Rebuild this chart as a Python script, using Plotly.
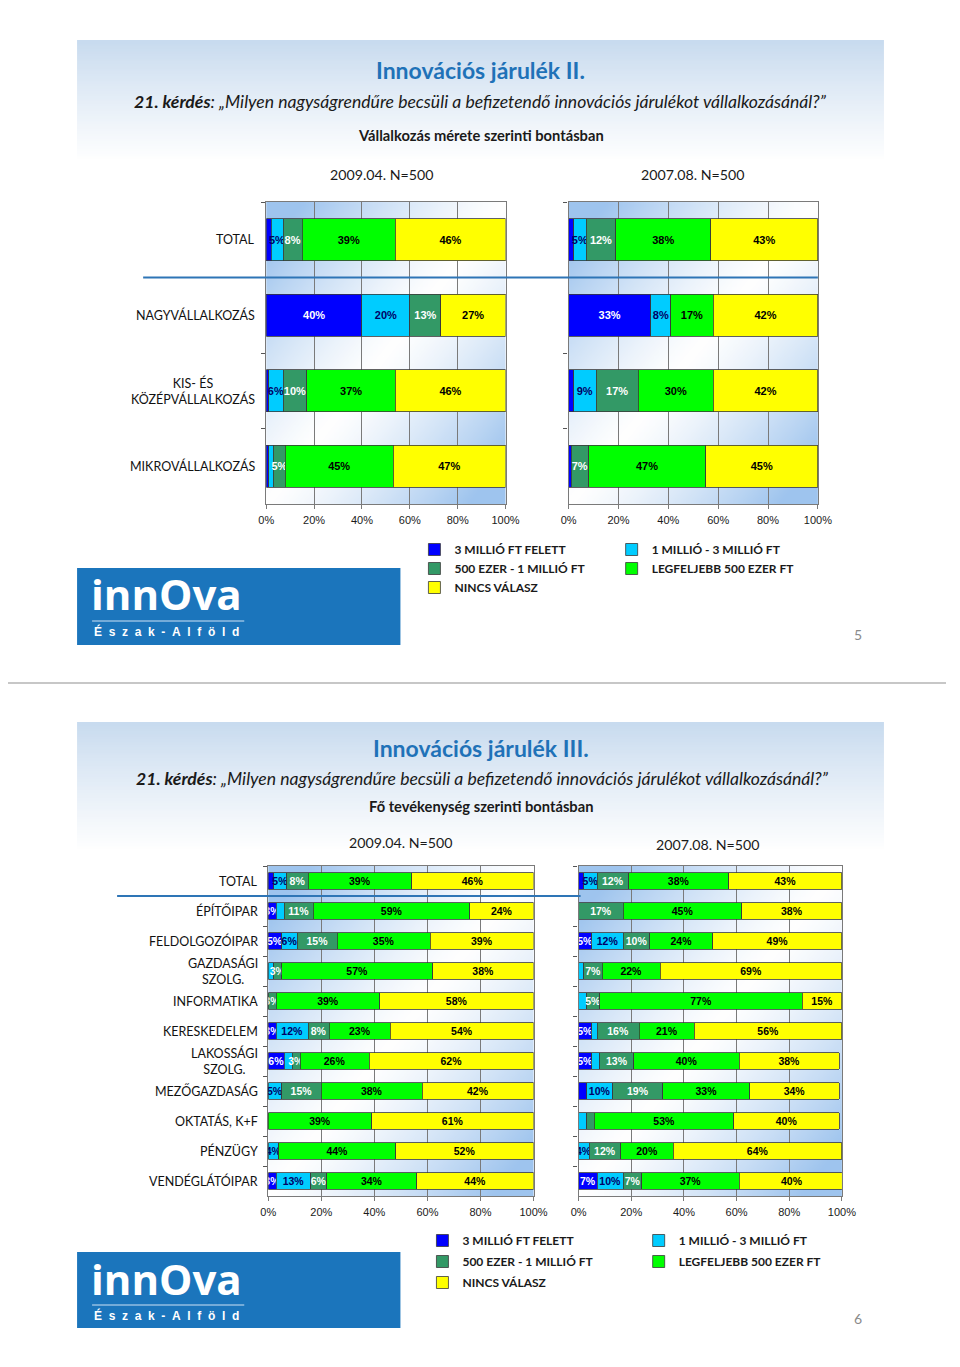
import base64
import struct
import zlib
import plotly.graph_objects as go

W, H = 960, 1367

# ---------------- data ----------------
SERIES = ["3 MILLIÓ FT FELETT", "1 MILLIÓ - 3 MILLIÓ FT", "500 EZER - 1 MILLIÓ FT",
          "LEGFELJEBB 500 EZER FT", "NINCS VÁLASZ"]

SIZE_CATS = ["TOTAL", "NAGYVÁLLALKOZÁS", "KIS- ÉS<br>KÖZÉPVÁLLALKOZÁS", "MIKROVÁLLALKOZÁS"]
size_2009_s1 = [2, 40, 1, 1]
size_2009_s2 = [5, 20, 6, 2]
size_2009_s3 = [8, 13, 10, 5]
size_2009_s4 = [39, 0, 37, 45]
size_2009_s5 = [46, 27, 46, 47]
size_2007_s1 = [2, 33, 2, 1]
size_2007_s2 = [5, 8, 9, 0]
size_2007_s3 = [12, 0, 17, 7]
size_2007_s4 = [38, 17, 30, 47]
size_2007_s5 = [43, 42, 42, 45]

SECTOR_CATS = ["TOTAL", "ÉPÍTŐIPAR", "FELDOLGOZÓIPAR", "GAZDASÁGI<br>SZOLG.", "INFORMATIKA",
               "KERESKEDELEM", "LAKOSSÁGI<br>SZOLG.", "MEZŐGAZDASÁG", "OKTATÁS, K+F",
               "PÉNZÜGY", "VENDÉGLÁTÓIPAR"]
sector_2009_s1 = [2, 3, 5, 0, 0, 3, 6, 0, 0, 0, 3]
sector_2009_s2 = [5, 3, 6, 2, 0, 12, 3, 5, 0, 4, 13]
sector_2009_s3 = [8, 11, 15, 3, 3, 8, 3, 15, 0, 0, 6]
sector_2009_s4 = [39, 59, 35, 57, 39, 23, 26, 38, 39, 44, 34]
sector_2009_s5 = [46, 24, 39, 38, 58, 54, 62, 42, 61, 52, 44]
sector_2007_s1 = [2, 0, 5, 0, 0, 5, 5, 3, 0, 0, 7]
sector_2007_s2 = [5, 0, 12, 2, 3, 2, 3, 10, 3, 4, 10]
sector_2007_s3 = [12, 17, 10, 7, 5, 16, 13, 19, 3, 12, 7]
sector_2007_s4 = [38, 45, 24, 22, 77, 21, 40, 33, 53, 20, 37]
sector_2007_s5 = [43, 38, 49, 69, 15, 56, 38, 34, 40, 64, 40]

# (series index, category index) segments that carry no data label in the original
sector_2009_unlabeled = [(1, 1), (1, 6)]
sector_2007_unlabeled = [(1, 4), (1, 6), (0, 7), (1, 8), (2, 8)]

X_TICKS = [0, 20, 40, 60, 80, 100]
X_TICK_LABELS = ["0%", "20%", "40%", "60%", "80%", "100%"]

# ---------------- styles ----------------
COLORS = ["#0000FF", "#00CCFF", "#339966", "#00FF00", "#FFFF00"]
TEXT_COLORS = ["#FFFFFF", "#000066", "#FFFFFF", "#000000", "#000000"]
CAL = "Lato"
ARIAL = "Liberation Sans"
TITLE_BLUE = "#1F72B8"

# the page as photographed maps paper x 0..1 onto pixels 8..945
PX0, PXW = 8.0, 937.0


def X(p):
    return (p - PX0) / PXW


def Y(p):
    return 1 - p / H


def png_uri(w, h, fn):
    raw = bytearray()
    for j in range(h):
        raw.append(0)
        for i in range(w):
            r, g, b = fn(i / (w - 1), j / (h - 1))
            raw += bytes((int(r), int(g), int(b)))

    def chunk(t, d):
        c = struct.pack(">I", len(d)) + t + d
        return c + struct.pack(">I", zlib.crc32(t + d) & 0xFFFFFFFF)

    png = (b"\x89PNG\r\n\x1a\n"
           + chunk(b"IHDR", struct.pack(">IIBBBBB", w, h, 8, 2, 0, 0, 0))
           + chunk(b"IDAT", zlib.compress(bytes(raw)))
           + chunk(b"IEND", b""))
    return "data:image/png;base64," + base64.b64encode(png).decode()


def mix(a, b, t):
    t = max(0.0, min(1.0, t))
    return tuple(a[k] + (b[k] - a[k]) * t for k in range(3))


PLOT_BG = png_uri(48, 48, lambda u, v: mix((255, 255, 255), (158, 196, 238),
                                           min(1.0, abs(u + v - 1) * 1.15) ** 1.3))
HEAD_BG = png_uri(4, 48, lambda u, v: mix((200, 219, 239), (255, 255, 255), v ** 0.9))

fig = go.Figure()


def add_chart(cats, vals_list, unlabeled, xa, ya, label_size, legends=None):
    for k, vals in enumerate(vals_list):
        labels = [f"{v}%" if (v >= 3 and (k, i) not in unlabeled) else ""
                  for i, v in enumerate(vals)]
        kw = {}
        if legends:
            kw["legend"] = legends[k]
            kw["legendgroup"] = f"{legends[k]}_{k}"
        fig.add_trace(go.Bar(
            orientation="h", y=cats, x=vals, name=SERIES[k],
            marker=dict(color=COLORS[k], line=dict(color="#3a3a3a", width=0.8)),
            text=labels, textposition="inside", insidetextanchor="middle",
            textangle=0, constraintext="none",
            textfont=dict(family=ARIAL, size=label_size, color=TEXT_COLORS[k], weight="bold"),
            xaxis=xa, yaxis=ya, showlegend=bool(legends), hoverinfo="skip", **kw))


LEG_A = ["legend", "legend2", "legend", "legend2", "legend"]
LEG_B = ["legend3", "legend4", "legend3", "legend4", "legend3"]

add_chart(SIZE_CATS, [size_2009_s1, size_2009_s2, size_2009_s3, size_2009_s4, size_2009_s5],
          [], "x", "y", 11, LEG_A)
add_chart(SIZE_CATS, [size_2007_s1, size_2007_s2, size_2007_s3, size_2007_s4, size_2007_s5],
          [], "x2", "y2", 11)
add_chart(SECTOR_CATS, [sector_2009_s1, sector_2009_s2, sector_2009_s3, sector_2009_s4, sector_2009_s5],
          sector_2009_unlabeled, "x3", "y3", 10.5, LEG_B)
add_chart(SECTOR_CATS, [sector_2007_s1, sector_2007_s2, sector_2007_s3, sector_2007_s4, sector_2007_s5],
          sector_2007_unlabeled, "x4", "y4", 10.5)

DOM = {
    1: ((266, 505), (202, 504)),
    2: ((568, 817), (202, 504)),
    3: ((268, 533), (866, 1196)),
    4: ((578, 841), (866, 1196)),
}


def xaxis(n):
    (x0, x1), _ = DOM[n]
    return dict(domain=[X(x0), X(x1)], range=[0, 100], tickvals=X_TICKS, ticktext=X_TICK_LABELS,
                showgrid=True, gridcolor="#7a7a7a", gridwidth=1.3, zeroline=False,
                showline=True, mirror=True, linecolor="#7a7a7a", linewidth=1.3,
                ticks="outside", ticklen=4, tickcolor="#7a7a7a", ticklabelstandoff=2,
                tickfont=dict(family=ARIAL, size=11, color="#1a1a1a"),
                anchor="y" if n == 1 else f"y{n}", fixedrange=True)


def yaxis(n):
    _, (y0, y1) = DOM[n]
    return dict(domain=[Y(y1), Y(y0)], type="category", autorange="reversed",
                tickson="boundaries", ticks="outside", ticklen=4, tickcolor="#555555",
                showline=True, mirror=True, linecolor="#7a7a7a", linewidth=1.3,
                showgrid=False, showticklabels=False,
                anchor="x" if n == 1 else f"x{n}", fixedrange=True)


images = []
for n, ((x0, x1), (y0, y1)) in DOM.items():
    images.append(dict(source=PLOT_BG, xref="paper", yref="paper", x=X(x0), y=Y(y0),
                       sizex=X(x1) - X(x0), sizey=(y1 - y0) / H, xanchor="left",
                       yanchor="top", sizing="stretch", layer="below"))
for (y0, y1) in [(40, 160), (722, 850)]:
    images.append(dict(source=HEAD_BG, xref="paper", yref="paper", x=X(77), y=Y(y0),
                       sizex=X(883) - X(77), sizey=(y1 - y0) / H, xanchor="left",
                       yanchor="top", sizing="stretch", layer="below"))

shapes = [
    # slide separator
    dict(type="line", xref="paper", yref="paper", x0=0, x1=1, y0=Y(683), y1=Y(683),
         line=dict(color="#b5b5b5", width=1.5)),
    # TOTAL separators
    dict(type="line", xref="paper", yref="y", x0=X(143), x1=X(817), y0=0.5, y1=0.5,
         line=dict(color="#2E75B6", width=2)),
    dict(type="line", xref="paper", yref="y3", x0=X(117), x1=X(580), y0=0.5, y1=0.5,
         line=dict(color="#2E75B6", width=2)),
]
# logo boxes
for (y0, y1) in [(568, 645), (1252, 1328)]:
    shapes.append(dict(type="rect", xref="paper", yref="paper", x0=X(77), x1=X(400),
                       y0=Y(y1), y1=Y(y0), fillcolor="#1B75BC", line=dict(width=0), layer="below"))
    shapes.append(dict(type="line", xref="paper", yref="paper", x0=X(92), x1=X(244),
                       y0=Y(y0 + 53), y1=Y(y0 + 53), line=dict(color="#cfe3f5", width=1)))


def ann(text, x, y, size, color="#1a1a1a", family=CAL, xanchor="center", weight=None):
    f = dict(family=family, size=size, color=color)
    if weight:
        f["weight"] = weight
    return dict(text=text, x=X(x), y=Y(y), xref="paper", yref="paper", showarrow=False,
                xanchor=xanchor, yanchor="middle", font=f)


QUESTION = ("<b><i>21. kérdés</i></b><i>: „Milyen nagyságrendűre becsüli a befizetendő "
            "innovációs járulékot vállalkozásánál?”</i>")
NB = "\u00a0"
LOGO_SUB = (NB * 2).join("Észak-Alföld")

annotations = [
    ann("<b>Innovációs járulék II.</b>", 480, 70, 23, TITLE_BLUE),
    ann(QUESTION, 480, 101, 17.6),
    ann("<b>Vállalkozás mérete szerinti bontásban</b>", 480, 135, 14.7),
    ann("2009.04. N=500", 381, 174, 14.2),
    ann("2007.08. N=500", 692, 174, 14.2),
    ann("<b>Innovációs járulék III.</b>", 480, 748, 23, TITLE_BLUE),
    ann(QUESTION, 482, 778, 17.6),
    ann("<b>Fő tevékenység szerinti bontásban</b>", 480, 806, 14.7),
    ann("2009.04. N=500", 400, 842, 14.2),
    ann("2007.08. N=500", 707, 844, 14.2),
    ann("5", 857, 635, 14, "#8a8a8a"),
    ann("6", 857, 1318, 14, "#8a8a8a"),
]
for y0 in [568, 1252]:
    annotations.append(ann("<b>innOva</b>", 89, y0 + 26, 42, "#FFFFFF", "Open Sans", "left"))
    annotations.append(ann(LOGO_SUB, 92, y0 + 63, 12, "#FFFFFF", ARIAL, "left", "bold"))

# category labels, centred per line, placed on the category axes
for cats, yref, xr in [(SIZE_CATS, "y", 257), (SECTOR_CATS, "y3", 260)]:
    for c in cats:
        annotations.append(dict(text=c, x=X(xr), y=c, xref="paper", yref=yref,
                                showarrow=False, xanchor="right", yanchor="middle",
                                align="center",
                                font=dict(family=CAL, size=12.5, color="#111111")))


def legend(x, y, gap):
    return dict(x=X(x), y=Y(y), xanchor="left", yanchor="top", orientation="v",
                bgcolor="rgba(0,0,0,0)", borderwidth=0, traceorder="grouped",
                font=dict(family=CAL, size=12, color="#1a1a1a", weight="bold"),
                itemwidth=30, tracegroupgap=gap, itemclick=False, itemdoubleclick=False)


fig.update_layout(
    width=W, height=H, autosize=False,
    margin=dict(l=0, r=0, t=0, b=0, pad=0),
    paper_bgcolor="#FFFFFF", plot_bgcolor="rgba(0,0,0,0)",
    barmode="stack", bargap=0.45,
    xaxis=xaxis(1), xaxis2=xaxis(2), xaxis3=xaxis(3), xaxis4=xaxis(4),
    yaxis=yaxis(1), yaxis2=yaxis(2), yaxis3=yaxis(3), yaxis4=yaxis(4),
    legend=legend(414, 535, 0), legend2=legend(611, 535, 0),
    legend3=legend(422, 1226, 2), legend4=legend(638, 1226, 2),
    images=images, shapes=shapes, annotations=annotations,
    showlegend=True, hovermode=False,
)

fig.write_html(
    "out.html",
    post_script=("document.documentElement.style.margin='0px';"
                 "document.body.style.margin='0px';"
                 "document.body.style.padding='0px';"),
    config={"displayModeBar": False},
)
